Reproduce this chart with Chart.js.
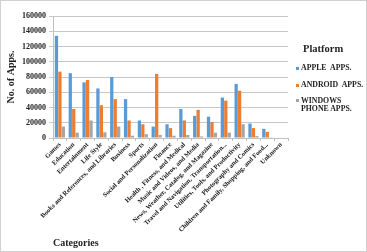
<!DOCTYPE html>
<html><head><meta charset="utf-8">
<script src="https://cdn.jsdelivr.net/npm/chart.js@4/dist/chart.umd.min.js"></script>
<style>
html,body{margin:0;padding:0;background:#fff;}
#wrap{position:relative;width:367px;height:252px;overflow:hidden;}
#c{position:absolute;left:0;top:0;}
#frame{position:absolute;left:0;top:0;width:367px;height:252px;box-sizing:border-box;border:1px solid #d0d0d0;pointer-events:none;}
#legend{position:absolute;left:0;top:0;font-family:"Liberation Serif",serif;font-weight:bold;color:#222;}
#legend .t{position:absolute;left:303px;font-size:10.5px;line-height:12px;white-space:nowrap;}
#legend .i{position:absolute;left:301px;font-size:7.8px;line-height:8.4px;white-space:nowrap;}
#legend .m{position:absolute;left:296px;width:3px;height:3px;}
</style></head>
<body>
<div id="wrap">
<canvas id="c" width="367" height="252"></canvas>
<div id="legend"></div>
<div id="frame"></div>
</div>
<script>
const categories = ["Games","Education","Entertainment","Life Style","Books and References, and Libraries","Business","Sports","Social and Personalization","Finance","Health , Fitness, and Medical","Music and Videos, and Media","News, Weather, Catalog, and Magazine","Travel and Navigation, Transportation...","Utilities, Tools, and Productivity","Photography and Comics","Children and Family, Shopping, and Food...","Unknown"];
const seriesNames = ["APPLE  APPS.","ANDROID  APPS.","WINDOWS PHONE APPS."];
const appleApps   = [134000,85000,73000,65000,80000,51000,23000,15000,18000,38000,29000,28000,53000,71000,19000,12000,0];
const androidApps = [87000,38000,76000,43000,51000,23000,18000,84000,13000,23000,37000,21000,49000,62000,13000,8000,0];
const windowsApps = [15000,7000,23000,7500,15000,3000,5000,4000,3000,4000,2000,7000,7000,18000,2500,1000,0];
const yTicks = [0,20000,40000,60000,80000,100000,120000,140000,160000];
const colors = ["#5B9BD5","#ED7D31","#A5A5A5"];

const serif = "'Liberation Serif', 'Times New Roman', serif";
const values = [appleApps, androidApps, windowsApps];

new Chart(document.getElementById('c'), {
  type: 'bar',
  data: {
    labels: categories,
    datasets: values.map((v,i)=>({label: seriesNames[i], data: v, backgroundColor: colors[i], borderWidth:0, barPercentage:0.95, categoryPercentage:0.75}))
  },
  options: {
    responsive:false, animation:false,
    layout:{padding:{top:16,right:79,left:0,bottom:0}},
    plugins:{legend:{display:false},tooltip:{enabled:false}},
    scales:{
      x:{
        grid:{display:true,drawOnChartArea:false,drawTicks:true,tickLength:3,color:'#bfbfbf',offset:true},
        border:{color:'#bfbfbf'},
        ticks:{autoSkip:false,minRotation:45,maxRotation:45,padding:0,color:'#222',font:{family:serif,weight:'bold',size:6.6}},
        title:{display:true,text:'Categories',align:'start',color:'#222',font:{family:serif,weight:'bold',size:10},padding:{top:0,bottom:3}},
        afterFit:(s)=>{s.height=114;}
      },
      y:{
        min:0,max:160000,
        afterBuildTicks:(s)=>{s.ticks=yTicks.map(v=>({value:v}));},
        grid:{color:'#c8c8c8',tickLength:4,drawTicks:true},
        border:{color:'#bfbfbf'},
        ticks:{padding:3,color:'#222',font:{family:serif,weight:'bold',size:8},callback:(v)=>String(v)},
        title:{display:true,text:'No. of Apps.',color:'#222',font:{family:serif,weight:'bold',size:10},padding:{top:5,bottom:0}},
        afterFit:(s)=>{s.width=53;}
      }
    }
  }
});

const lg = document.getElementById('legend');
const legendTitle = 'Platform';
const legendLines = [["APPLE&nbsp; APPS."],["ANDROID&nbsp; APPS."],["WINDOWS","PHONE APPS."]];
const legendY = [68.3, 85, 100.7]; // centre of first line of each entry
let html = '<div class="t" style="top:'+(49-6)+'px">'+legendTitle+'</div>';
legendLines.forEach((lines,i)=>{
  html += '<div class="m" style="top:'+(legendY[i]-1.5)+'px;background:'+colors[i]+'"></div>';
  html += '<div class="i" style="top:'+(legendY[i]-4.2)+'px">'+lines.join('<br>')+'</div>';
});
lg.innerHTML = html;
</script>
</body></html>
